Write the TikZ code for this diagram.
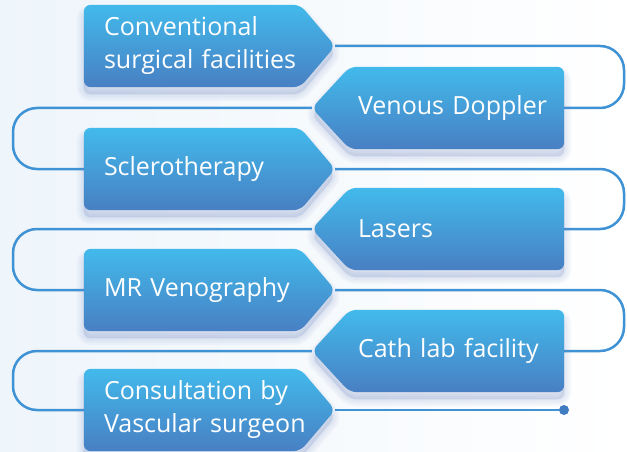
\documentclass[tikz,border=0pt]{standalone}
\usepackage{fontspec}
\setmainfont{Open Sans}
\usetikzlibrary{calc}
\pgfdeclarelayer{back}
\pgfdeclarelayer{boxes}
\pgfsetlayers{back,boxes,main}
\definecolor{boxtop}{HTML}{42BAEB}
\definecolor{boxbot}{HTML}{487FC3}
\definecolor{linec}{HTML}{3F93D5}
\definecolor{dotc}{HTML}{3F7CC1}
\definecolor{bgl}{HTML}{EEF5FB}
\definecolor{shadowc}{HTML}{6A82C2}
\tikzset{
  boxtext/.style={minimum height=82pt, inner ysep=0pt, align=left, text=white,
    font=\fontsize{25}{33}\selectfont},
  lbox/.style={boxtext, inner xsep=20pt, text width=211pt},
  rbox/.style={boxtext, inner xsep=0pt, text width=206pt},
  boxfill/.style={top color=boxtop, bottom color=boxbot, rounded corners=7pt},
  boxshade/.style={fill=shadowc, draw=shadowc, line width=#1, opacity=0.05,
    rounded corners=7pt, line join=round},
  conn/.style={draw=linec, line width=2.5pt, rounded corners=24pt},
  enddot/.style={circle, fill=dotc, inner sep=0pt, minimum size=10pt},
}
\begin{document}
\begin{tikzpicture}[x=1pt,y=-1pt]
\useasboundingbox (0,0) rectangle (627,452);
% text nodes
\node[lbox] (b1) at (209.5,46) {Conventional\\surgical facilities};
\node[rbox] (b2) at (461,108) {Venous Doppler};
\node[lbox] (b3) at (209.5,169) {Sclerotherapy};
\node[rbox] (b4) at (461,229) {Lasers};
\node[lbox] (b5) at (209.5,290) {MR Venography};
\node[rbox] (b6) at (461,351) {Cath lab facility};
\node[lbox] (b7) at (209.5,410) {Consultation by\\Vascular surgeon};
\node[enddot] (end) at (564,410) {};
\coordinate (R) at (624,0);
\coordinate (L) at (13,0);
\coordinate (t2) at ($(b2.west)+(-46,0)$);
\coordinate (t4) at ($(b4.west)+(-46,0)$);
\coordinate (t6) at ($(b6.west)+(-46,0)$);
\begin{pgfonlayer}{back}
  \fill[left color=bgl, right color=white] (0,0) rectangle (627,452);
  \draw[conn] (b1.east) -- (b1.east -| R) -- (b2.east -| R) -- (b2.east);
  \draw[conn] (t2) -- (t2 -| L) -- (b3.west -| L) -- (b3.west);
  \draw[conn] (b3.east) -- (b3.east -| R) -- (b4.east -| R) -- (b4.east);
  \draw[conn] (t4) -- (t4 -| L) -- (b5.west -| L) -- (b5.west);
  \draw[conn] (b5.east) -- (b5.east -| R) -- (b6.east -| R) -- (b6.east);
  \draw[conn] (t6) -- (t6 -| L) -- (b7.west -| L) -- (b7.west);
  \draw[conn] (b7.east) -- (end);
\end{pgfonlayer}
\begin{pgfonlayer}{boxes}
  \foreach \n in {b1,b3,b5,b7}{
    \foreach \w in {14pt,10pt,6pt,2pt}{
      \path[boxshade=\w] ($(\n.north west)+(0,7)$) -- ($(\n.north east)+(-35,7)$) -- ($(\n.east)+(0,7)$)
        -- ($(\n.south east)+(-35,7)$) -- ($(\n.south west)+(0,7)$) -- cycle;
    }
    \path[boxfill] (\n.north west) -- ($(\n.north east)+(-35,0)$) -- (\n.east)
      -- ($(\n.south east)+(-35,0)$) -- (\n.south west) -- cycle;
  }
  \foreach \n in {b2,b4,b6}{
    \foreach \w in {14pt,10pt,6pt,2pt}{
      \path[boxshade=\w] ($(\n.west)+(-46,7)$) -- ($(\n.north west)+(-8,7)$) -- ($(\n.north east)+(0,7)$)
        -- ($(\n.south east)+(0,7)$) -- ($(\n.south west)+(-8,7)$) -- cycle;
    }
    \path[boxfill] ($(\n.west)+(-46,0)$) -- ($(\n.north west)+(-8,0)$) -- (\n.north east)
      -- (\n.south east) -- ($(\n.south west)+(-8,0)$) -- cycle;
  }
\end{pgfonlayer}
\end{tikzpicture}
\end{document}
